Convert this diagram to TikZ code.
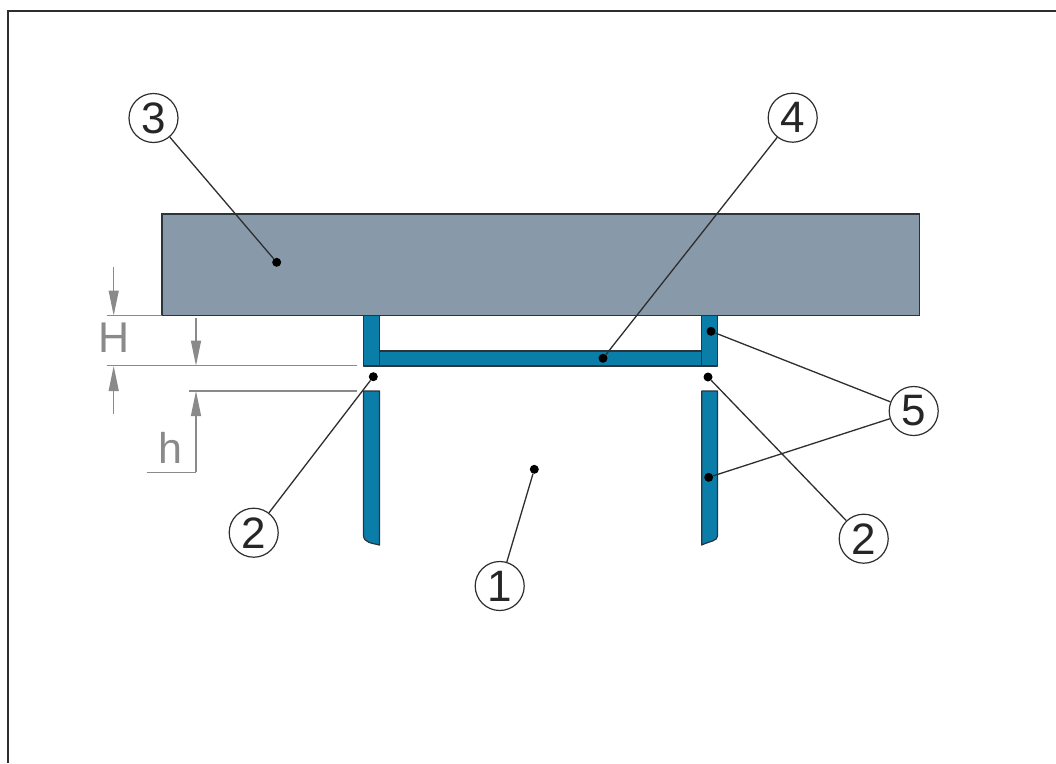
\documentclass[tikz,border=0pt]{standalone}
\usepackage{fontspec}
\setmainfont{Liberation Sans}
\usetikzlibrary{arrows.meta}
\definecolor{plategray}{HTML}{8899A9}
\definecolor{tubeblue}{HTML}{0A7EA9}
\definecolor{outlinec}{HTML}{2A343B}
\definecolor{dimgray}{HTML}{8A8A8A}
\definecolor{leaderc}{HTML}{2E2E2E}
\tikzset{
  framec/.style={draw=leaderc,line width=2pt},
  plate/.style={fill=plategray,draw=outlinec,line width=1.2pt},
  tube/.style={fill=tubeblue,draw=outlinec,line width=1.2pt,line join=round},
  balloon/.style={circle,draw=leaderc,fill=white,line width=1.2pt,minimum size=49pt,inner sep=0pt,font=\fontsize{44}{44}\selectfont,text=black!85},
  dotm/.style={circle,fill=black,minimum size=9pt,inner sep=0pt},
  leader/.style={draw=leaderc,line width=1.3pt},
  dimline/.style={draw=dimgray,line width=1.2pt},
  dimarrow/.style={draw=dimgray,line width=1.2pt,-{Triangle[length=25pt,width=10pt,fill=dimgray]}},
  dimtext/.style={text=dimgray,inner sep=0pt,font=\fontsize{43}{43}\selectfont}
}
\begin{document}
\begin{tikzpicture}[x=1pt,y=-1pt]
\useasboundingbox (0,0) rectangle (1056,763);
\fill[white] (0,0) rectangle (1056,763);
\draw[framec] (7.5,763) -- (7.5,11) -- (1056,11);
% plate
\draw[plate] (162,214) rectangle (919.5,315.5);
% tubes
\draw[tube] (379.5,351) rectangle (701.7,366);
\draw[tube] (363.5,315.5) rectangle (379.5,366);
\draw[tube] (701.7,315.5) rectangle (717.5,366);
\draw[tube] (363.5,391) -- (379.5,391) -- (379.5,545) .. controls (372,543) and (363.5,543) .. (363.5,535) -- cycle;
\draw[tube] (701.7,391) -- (717.5,391) -- (717.5,536) .. controls (717.5,541) and (710,541) .. (701.7,545) -- cycle;
% dimension lines
\coordinate (Htop) at (113.7,267);
\coordinate (Htip) at (113.7,315.5);
\coordinate (Hbot) at (113.7,414);
\coordinate (Hlow) at (113.7,366);
\coordinate (atop) at (196,317.5);
\coordinate (atip) at (196,365.7);
\coordinate (hcorner) at (196,472.3);
\coordinate (htip) at (196,391);
\coordinate (hend) at (146.7,472.3);
\coordinate (e1a) at (106.7,315.5);
\coordinate (e1b) at (162,315.5);
\coordinate (e2a) at (106.7,365.7);
\coordinate (e2b) at (356.7,365.7);
\coordinate (e3a) at (189,391);
\coordinate (e3b) at (356.7,391);
\draw[dimline] (e1a) -- (e1b);
\draw[dimline] (e2a) -- (e2b);
\draw[dimline] (e3a) -- (e3b);
\draw[dimarrow] (Htop) -- (Htip);
\draw[dimarrow] (Hbot) -- (Hlow);
\draw[dimarrow] (atop) -- (atip);
\draw[dimline] (hend) -- (hcorner);
\draw[dimarrow] (hcorner) -- (htip);
\node[dimtext] (labH) at (113.7,338) {H};
\node[dimtext,anchor=base] (labh) at (170.7,463) {h};
% dots
\node[dotm] (d1) at (534.3,469.3) {};
\node[dotm] (d2l) at (373.3,376.7) {};
\node[dotm] (d2r) at (708,377) {};
\node[dotm] (d3) at (276.7,262.3) {};
\node[dotm] (d4) at (603,358.3) {};
\node[dotm] (d5a) at (711,331.3) {};
\node[dotm] (d5b) at (708.7,477.3) {};
% balloons
\node[balloon] (c1) at (499.7,586) {1};
\node[balloon] (c2l) at (253.7,532.7) {2};
\node[balloon] (c2r) at (863.7,538.7) {2};
\node[balloon] (c3) at (153.5,118) {3};
\node[balloon] (c4) at (792.7,117.7) {4};
\node[balloon] (c5) at (913.7,411) {5};
% leaders
\draw[leader] (d1) -- (c1);
\draw[leader] (d2l) -- (c2l);
\draw[leader] (d2r) -- (c2r);
\draw[leader] (d3) -- (c3);
\draw[leader] (d4) -- (c4);
\draw[leader] (d5a) -- (c5);
\draw[leader] (d5b) -- (c5);
\end{tikzpicture}
\end{document}
